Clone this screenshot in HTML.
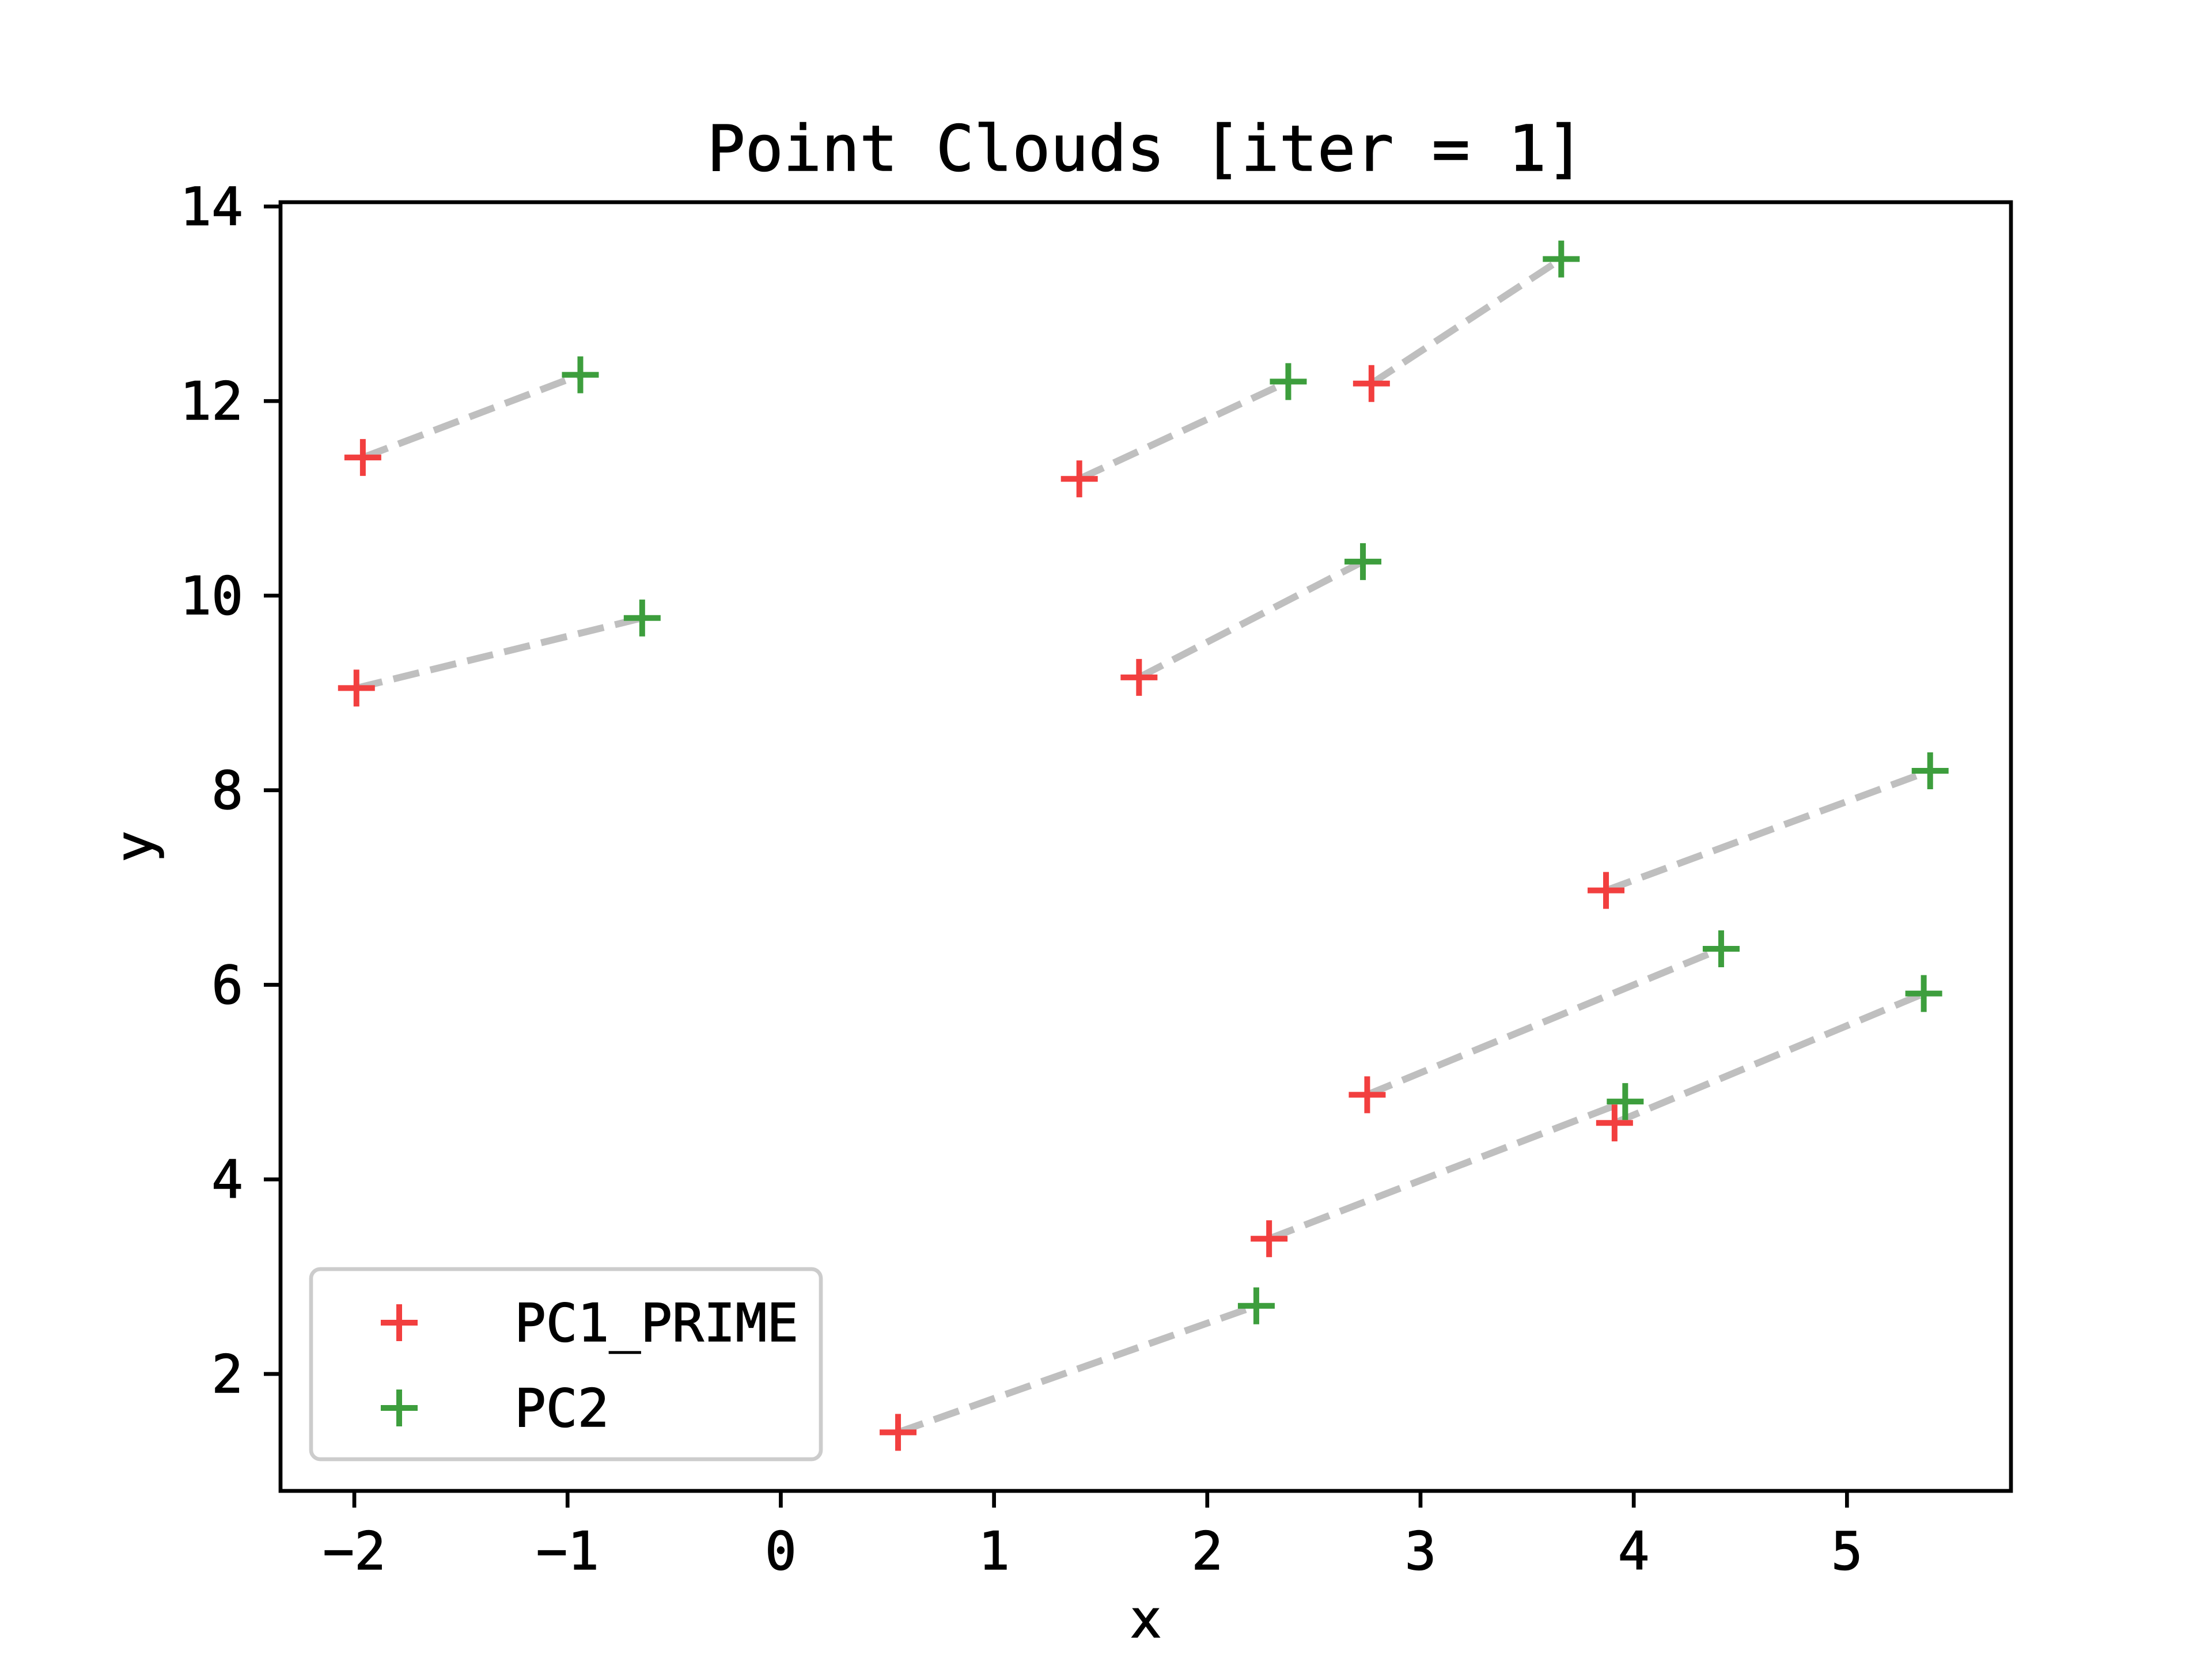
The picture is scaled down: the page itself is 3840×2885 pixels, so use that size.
<!DOCTYPE html>
<html><head><meta charset="utf-8"><style>
html,body{margin:0;padding:0;background:#fff;}
svg text{font-family:"DejaVu Sans Mono","Liberation Mono",monospace;fill:#000;stroke:#000;stroke-width:1.5px;}
</style></head><body>
<svg id="chart" xmlns="http://www.w3.org/2000/svg" width="3840" height="2880" viewBox="0 0 3840 2880">
<rect width="3840" height="2880" fill="#fff"/>
<g id="lines"></g><g id="marks"></g><g id="axes"></g>
</svg>
<script>
const pc1X = [-1.96, -1.99, 1.40, 2.77, 1.68, 3.87, 2.75, 3.91, 2.29, 0.55];
const pc1Y = [11.42, 9.05, 11.20, 12.18, 9.16, 6.97, 4.87, 4.58, 3.39, 1.40];
const pc2X = [-0.94, -0.65, 2.38, 3.66, 2.73, 5.39, 4.41, 5.36, 3.96, 2.23];
const pc2Y = [12.27, 9.77, 12.20, 13.46, 10.35, 8.20, 6.37, 5.91, 4.80, 2.70];
const xTicks = [-2, -1, 0, 1, 2, 3, 4, 5];
const yTicks = [2, 4, 6, 8, 10, 12, 14];
const xTickLabels = ["\u22122", "\u22121", "0", "1", "2", "3", "4", "5"];
const yTickLabels = ["2", "4", "6", "8", "10", "12", "14"];

const NS = "http://www.w3.org/2000/svg";
const L = 487, R = 3491, T = 351, B = 2588;
const xMin = -2.346, xMax = 5.769, yMin = 0.798, yMax = 14.044;
const sx = v => L + (v - xMin) / (xMax - xMin) * (R - L);
const sy = v => B - (v - yMin) / (yMax - yMin) * (B - T);
function mk(tag, attrs, parent) {
  const e = document.createElementNS(NS, tag);
  for (const k in attrs) e.setAttribute(k, attrs[k]);
  parent.appendChild(e);
  return e;
}
const lines = document.getElementById('lines');
const marks = document.getElementById('marks');
const axes = document.getElementById('axes');
function plus(cx, cy, color, parent, name) {
  const g = mk('g', {stroke: color, 'stroke-width': 10}, parent);
  
  
  mk('line', {x1: cx - 32, y1: cy, x2: cx + 32, y2: cy}, g);
  mk('line', {x1: cx, y1: cy - 32, x2: cx, y2: cy + 32}, g);
}
for (let i = 0; i < pc1X.length; i++) {
  const l = mk('line', {x1: sx(pc1X[i]), y1: sy(pc1Y[i]), x2: sx(pc2X[i]), y2: sy(pc2Y[i]), stroke: '#bfbfbf', 'stroke-width': 12, 'stroke-dasharray': '46 20'}, lines);
  
  
}
for (let i = 0; i < pc1X.length; i++) plus(sx(pc1X[i]), sy(pc1Y[i]), '#f23f3f', marks, 'pc1-prime-point');
for (let i = 0; i < pc2X.length; i++) plus(sx(pc2X[i]), sy(pc2Y[i]), '#3d9e3d', marks, 'pc2-point');

const frame = mk('rect', {x: L, y: T, width: R - L, height: B - T, fill: 'none', stroke: '#000', 'stroke-width': 6.7}, axes);


xTicks.forEach((v, i) => {
  const x = sx(v);
  const t = mk('line', {x1: x, y1: B, x2: x, y2: B + 29, stroke: '#000', 'stroke-width': 6.7}, axes);
  
  
  const tx = mk('text', {x: x, y: 2724, 'font-size': 91, 'text-anchor': 'middle'}, axes);
  tx.textContent = xTickLabels[i];
  
  
});
yTicks.forEach((v, i) => {
  const y = sy(v);
  const t = mk('line', {x1: L - 29, y1: y, x2: L, y2: y, stroke: '#000', 'stroke-width': 6.7}, axes);
  
  
  const tx = mk('text', {x: 422, y: y + 32, 'font-size': 91, 'text-anchor': 'end'}, axes);
  tx.textContent = yTickLabels[i];
  
  
});
const title = mk('text', {x: (L + R) / 2, y: 296, 'font-size': 110, 'text-anchor': 'middle'}, axes);
title.textContent = 'Point Clouds [iter = 1]';


const xl = mk('text', {x: (L + R) / 2, y: 2842, 'font-size': 91, 'text-anchor': 'middle'}, axes);
xl.textContent = 'x';


const yl = mk('text', {x: 0, y: 0, 'font-size': 91, 'text-anchor': 'middle', transform: 'translate(265,' + (T + B) / 2 + ') rotate(-90)'}, axes);
yl.textContent = 'y';



const leg = mk('g', {}, axes);


mk('rect', {x: 540, y: 2203, width: 885, height: 330, rx: 16, fill: '#fff', 'fill-opacity': 0.8, stroke: '#cccccc', 'stroke-width': 6.7}, leg);
plus(693, 2296, '#f23f3f', leg, 'legend-marker-pc1-prime');
plus(693, 2444, '#3d9e3d', leg, 'legend-marker-pc2');
const t1 = mk('text', {x: 893, y: 2328, 'font-size': 91}, leg);
t1.textContent = 'PC1_PRIME';


const t2 = mk('text', {x: 893, y: 2476, 'font-size': 91}, leg);
t2.textContent = 'PC2';


</script>
</body></html>
